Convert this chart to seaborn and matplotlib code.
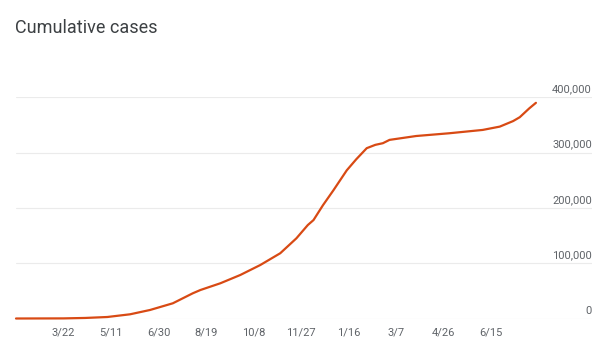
import pandas as pd
import matplotlib.pyplot as plt
import seaborn as sns

# days since 2020-02-01 and cumulative case counts
start = "2020-02-01"
days = [0, 50, 73, 96, 120, 141, 165, 186, 194, 215, 236, 257, 278, 295, 307,
        313, 323, 334, 341, 348, 358, 369, 378, 386, 393, 421, 456, 491, 509,
        523, 530, 540, 547]
cases = [0, 200, 1000, 2700, 7600, 15400, 27500, 45600, 51500, 63700, 78700,
         96700, 118000, 145000, 169000, 178000, 205000, 232000, 250000, 268000,
         288000, 308000, 314000, 317000, 323000, 330000, 335000, 341000, 347000,
         357000, 364000, 380000, 390000]

tick_dates = ["2020-03-22", "2020-05-11", "2020-06-30", "2020-08-19", "2020-10-08",
              "2020-11-27", "2021-01-16", "2021-03-07", "2021-04-26", "2021-06-15"]
tick_labels = ["3/22", "5/11", "6/30", "8/19", "10/8", "11/27", "1/16", "3/7", "4/26", "6/15"]
y_ticks = [0, 100000, 200000, 300000, 400000]
y_labels = ["0", "100,000", "200,000", "300,000", "400,000"]

df = pd.DataFrame({"date": pd.to_datetime(start) + pd.to_timedelta(days, unit="D"),
                   "cases": cases})

sns.set_theme(style="white")
plt.rcParams["font.family"] = ["Roboto", "DejaVu Sans"]

fig = plt.figure(figsize=(6.06, 3.6), dpi=100)
ax = fig.add_axes([16 / 606, (360 - 318.5) / 360, (592 - 16) / 606, (318.5 - 97.3) / 360])

for v in y_ticks:
    ax.axhline(v, color="#ebebeb", linewidth=0.8, zorder=0)

sns.lineplot(data=df, x="date", y="cases", ax=ax, color="#d84a14",
             linewidth=1.6, clip_on=False, zorder=3)

ax.set_xlim(pd.to_datetime(start), pd.to_datetime(start) + pd.Timedelta(days=606))
ax.set_ylim(0, 400000)
ax.set_xticks(pd.to_datetime(tick_dates))
ax.set_xticklabels(tick_labels, color="#5f6368", fontsize=8)
ax.tick_params(axis="x", length=0, pad=6.5)
ax.set_yticks([])
ax.set_xlabel("")
ax.set_ylabel("")
for s in ax.spines.values():
    s.set_visible(False)

for v, lab in zip(y_ticks, y_labels):
    ax.annotate(lab, xy=(1, v), xycoords=("axes fraction", "data"),
                xytext=(0, 8), textcoords="offset pixels",
                ha="right", va="center", fontsize=8, color="#5f6368")

fig.text(15 / 606, 1 - 28 / 360, "Cumulative cases", fontsize=13,
         color="#3c4043", ha="left", va="center")

fig.savefig("out.png", dpi=100)
